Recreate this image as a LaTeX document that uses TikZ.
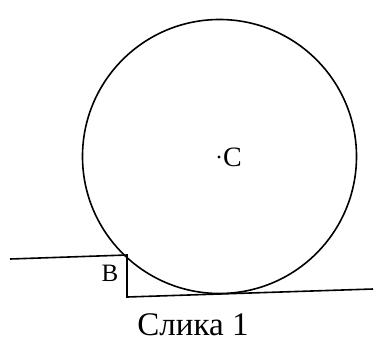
\documentclass[tikz,border=0pt]{standalone}
\usepackage{fontspec}
\setmainfont{Liberation Serif}
\usetikzlibrary{calc}

\begin{document}
\begin{tikzpicture}[x=1pt, y=-1pt, line width=1.6pt]
        \useasboundingbox (0,0) rectangle (382,349);

        % Draw the wheel
        \node[circle, draw, minimum size=274pt, inner sep=0pt] (wheel) at (219.5,156.5) {};
        \node[circle, fill, inner sep=1.1pt] (C) at (219,157) {};
        \node[right, inner sep=1pt, font=\fontsize{28}{28}\selectfont] at (C.east) {C};

        % Draw the step and the ground
        \coordinate (L) at (10,259);
        \coordinate (B) at (127,255);
        \coordinate (F) at (127,297);
        \coordinate (R) at (373,289);
        \draw (L) -- (B) -- (F) -- (R);
        \node[font=\fontsize{25}{25}\selectfont] at (110,273) {B};

        % Caption
        \node[font=\fontsize{33}{33}\selectfont] (cap) at (193,325) {Слика 1};
    \end{tikzpicture}
\end{document}
